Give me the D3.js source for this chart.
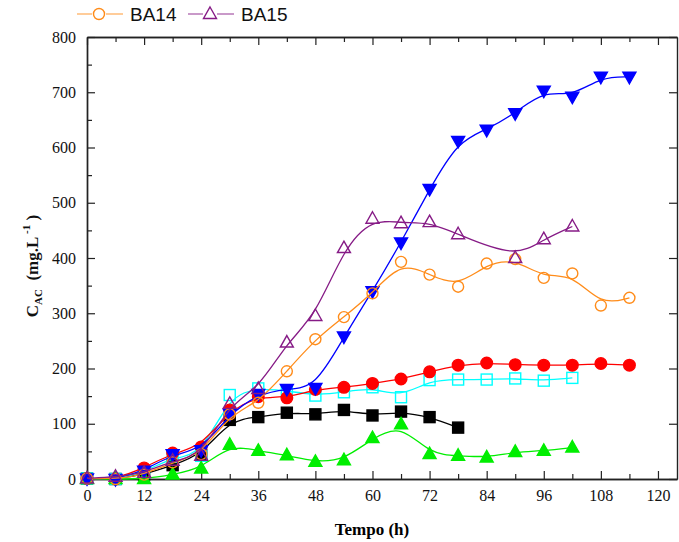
<!DOCTYPE html>
<html>
<head>
<meta charset="utf-8">
<script src="https://cdn.jsdelivr.net/npm/d3@7"></script>
<style>
  body { margin: 0; background: #fff; }
  svg { display: block; }
</style>
</head>
<body>
<div id="chart"></div>
<script>
// tempo (h)
const tempo = [0, 6, 12, 18, 24, 30, 36, 42, 48, 54, 60, 66, 72, 78, 84, 90, 96, 102, 108, 114];
const tempoBA15 = [0, 6, 12, 18, 24, 30, 36, 42, 48, 54, 60, 66, 72, 78, 90, 96, 102];

// concentracoes (mg/L)
const preto = [1, 0, 8, 25, 43, 107, 112, 120, 117, 125, 115, 122, 112, 93];
const vermelho = [1, 0, 20, 47, 58, 125, 149, 147, 162, 166, 173, 181, 194, 206, 210, 207, 206, 206, 209, 206];
const ciano = [1, 0, 12, 40, 42, 152, 164, 160, 151, 157, 166, 148, 179, 180, 180, 182, 178, 183];
const verde = [0, 0, 0, 8, 19, 62, 51, 43, 31, 34, 74, 99, 45, 42, 39, 49, 51, 57];
const azul = [1, 0, 15, 45, 52, 118, 154, 163, 165, 258, 340, 428, 525, 612, 632, 662, 703, 692, 728, 728];
const ba14 = [1, 0, 8, 30, 45, 117, 138, 195, 253, 293, 336, 393, 370, 348, 390, 398, 364, 372, 314, 328];
const ba15 = [1, 4, 11, 33, 42, 136, 163, 247, 295, 418, 471, 463, 465, 443, 400, 434, 457];

const xTicks = [0, 12, 24, 36, 48, 60, 72, 84, 96, 108, 120];
const yTicks = [0, 100, 200, 300, 400, 500, 600, 700, 800];

const width = 679, height = 542;

const svg = d3.select("#chart").append("svg")
    .attr("width", width)
    .attr("height", height);

const x = d3.scaleLinear().domain([0, 124]).range([87, 677]);
const y = d3.scaleLinear().domain([0, 800]).range([479, 37]);

const minorX = d3.range(6, 124, 12);
const minorY = d3.range(50, 800, 100);

// eixos (ticks para dentro)
function eixo(g, axis) {
    g.call(axis);
    g.selectAll("path.domain").attr("stroke", "#222").attr("stroke-width", 1.4);
    g.selectAll(".tick line").attr("stroke", "#222").attr("stroke-width", 1.2);
    g.selectAll(".tick text")
        .style("font-family", "'Liberation Serif', 'Times New Roman', serif")
        .style("font-size", "16px")
        .attr("fill", "#111");
}

svg.append("g").attr("transform", "translate(0,479)")
    .call(g => eixo(g, d3.axisBottom(x).tickValues(xTicks).tickSize(-8).tickSizeOuter(0).tickPadding(11)));
svg.append("g").attr("transform", "translate(0,479)")
    .call(g => eixo(g, d3.axisBottom(x).tickValues(minorX).tickSize(-5).tickSizeOuter(0).tickFormat("")));
svg.append("g").attr("transform", "translate(0,37)")
    .call(g => eixo(g, d3.axisTop(x).tickValues(xTicks).tickSize(-8).tickSizeOuter(0).tickFormat("")));
svg.append("g").attr("transform", "translate(0,37)")
    .call(g => eixo(g, d3.axisTop(x).tickValues(minorX).tickSize(-5).tickSizeOuter(0).tickFormat("")));

svg.append("g").attr("transform", "translate(87,0)")
    .call(g => eixo(g, d3.axisLeft(y).tickValues(yTicks).tickSize(-8).tickSizeOuter(0).tickPadding(11)));
svg.append("g").attr("transform", "translate(87,0)")
    .call(g => eixo(g, d3.axisLeft(y).tickValues(minorY).tickSize(-5).tickSizeOuter(0).tickFormat("")));
svg.append("g").attr("transform", "translate(677,0)")
    .call(g => eixo(g, d3.axisRight(y).tickValues(yTicks).tickSize(-8).tickSizeOuter(0).tickFormat("")));

// series
const series = [
    {t: tempo, v: preto, cor: "#000000", forma: "quad", cheio: true},
    {t: tempo, v: ciano, cor: "#00ffff", forma: "quad", cheio: false},
    {t: tempo, v: vermelho, cor: "#ff0000", forma: "circ", cheio: true},
    {t: tempo, v: verde, cor: "#00ee00", forma: "tri", cheio: true},
    {t: tempo, v: azul, cor: "#0000ff", forma: "triDown", cheio: true},
    {t: tempo, v: ba14, cor: "#ff8c1a", forma: "circ", cheio: false},
    {t: tempoBA15, v: ba15, cor: "#861b86", forma: "tri", cheio: false}
];

const linha = d3.line()
    .x(d => x(d[0]))
    .y(d => y(d[1]))
    .curve(d3.curveBasis);

function marcador(g, forma, cor, cheio) {
    let el;
    if (forma === "circ") {
        el = g.append("circle").attr("r", cheio ? 5.8 : 5.5);
    } else if (forma === "quad") {
        el = g.append("rect").attr("x", -5.5).attr("y", -5.5).attr("width", 11).attr("height", 11);
    } else if (forma === "tri") {
        el = g.append("path").attr("d", "M0,-7L6.5,4.5L-6.5,4.5Z");
    } else {
        el = g.append("path").attr("d", "M0,7L6.5,-4.5L-6.5,-4.5Z");
    }
    el.attr("fill", cheio ? cor : "#fff")
        .attr("fill-opacity", cheio ? 1 : 0)
        .attr("stroke", cor)
        .attr("stroke-width", 1.4);
}

series.forEach(s => {
    const pts = s.v.map((v, i) => [s.t[i], v]);
    svg.append("path")
        .datum(pts)
        .attr("fill", "none")
        .attr("stroke", s.cor)
        .attr("stroke-width", 1.3)
        .attr("d", linha);
    pts.forEach(p => {
        const g = svg.append("g").attr("transform", `translate(${x(p[0])},${y(p[1])})`);
        marcador(g, s.forma, s.cor, s.cheio);
    });
});

// legenda
const leg = [
    {nome: "BA14", cor: "#ff8c1a", forma: "circ", x0: 77},
    {nome: "BA15", cor: "#861b86", forma: "tri", x0: 188}
];
leg.forEach(l => {
    svg.append("line")
        .attr("x1", l.x0).attr("x2", l.x0 + 46)
        .attr("y1", 14).attr("y2", 14)
        .attr("stroke", l.cor).attr("stroke-opacity", 0.6).attr("stroke-width", 1.5);
    const g = svg.append("g").attr("transform", `translate(${l.x0 + 22},14)`);
    g.append("rect").attr("x", -7).attr("y", -7).attr("width", 14).attr("height", 14).attr("fill", "#fff");
    marcador(g, l.forma, l.cor, false);
    svg.append("text")
        .attr("x", l.x0 + 53).attr("y", 21)
        .style("font-family", "'Liberation Sans', Arial, sans-serif")
        .style("font-size", "19px")
        .attr("fill", "#111")
        .text(l.nome);
});

// rotulos dos eixos
svg.append("text")
    .attr("x", 372).attr("y", 535)
    .attr("text-anchor", "middle")
    .style("font-family", "'Liberation Serif', 'Times New Roman', serif")
    .style("font-size", "17px")
    .style("font-weight", "bold")
    .text("Tempo (h)");

const yl = svg.append("text")
    .attr("transform", "translate(38,266) rotate(-90)")
    .attr("text-anchor", "middle")
    .style("font-family", "'Liberation Serif', 'Times New Roman', serif")
    .style("font-size", "17px")
    .style("font-weight", "bold")
    .attr("fill", "#111");
yl.append("tspan").text("C");
yl.append("tspan").attr("dy", 4).style("font-size", "11px").text("AC");
yl.append("tspan").attr("dy", -4).text("\u00a0\u00a0(mg.L");
yl.append("tspan").attr("dy", -8).style("font-size", "11px").text("\u00a0-1");
yl.append("tspan").attr("dy", 8).text("\u00a0)");
</script>
</body>
</html>
